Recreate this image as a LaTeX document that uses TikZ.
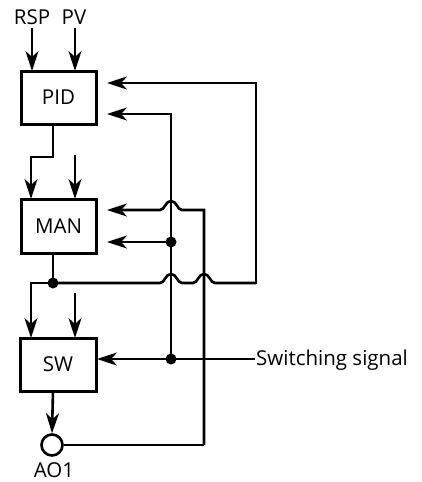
\documentclass[tikz,border=0pt]{standalone}
\usepackage{fontspec}
\setmainfont{Open Sans}
\usetikzlibrary{arrows.meta}
\begin{document}
\begin{tikzpicture}[x=1pt,y=-1pt,
  wire/.style={line width=2.6pt, line join=miter},
  arr/.style={wire, -{Stealth[length=20pt, width=13pt, inset=6pt]}},
  blk/.style={draw, line width=3pt, inner sep=0pt, font=\fontsize{20.5}{22}\selectfont},
  lbl/.style={font=\fontsize{20.5}{22}\selectfont, inner sep=0pt},
  dot/.style={circle, fill, inner sep=0pt, minimum size=11pt}]
\useasboundingbox (0,0) rectangle (422,482);
% blocks
\node[blk, minimum width=75pt, minimum height=53pt] (pid) at (58.5,97.5) {PID};
\node[blk, minimum width=75pt, minimum height=54pt] (man) at (58.5,226) {MAN};
\node[blk, minimum width=76pt, minimum height=53pt] (sw) at (58,364.5) {SW};
\node[draw, circle, line width=2.6pt, minimum size=21pt, inner sep=0pt] (ao) at (52,445) {};
\node[lbl] (aol) at (54,470) {AO1};
\node[lbl] (rsp) at (32,17) {RSP};
\node[lbl] (pv) at (74,17) {PV};
\node[lbl, anchor=west] (sig) at (256,360) {Switching signal};
% coordinates
\coordinate (pidB) at (53,124);
\coordinate (pidIn1) at (32,71);
\coordinate (pidIn2) at (75,71);
\coordinate (manIn1) at (31,199);
\coordinate (manIn2) at (75,199);
\coordinate (manIn2s) at (75,155);
\coordinate (manB) at (53,253);
\coordinate (swIn1) at (31,338);
\coordinate (swIn2) at (75,338);
\coordinate (swIn2s) at (75,293);
\coordinate (swB) at (53,391);
\coordinate (swR) at (97,359);
\coordinate (sigL) at (255,359);
\coordinate (j1) at (53,283);
\coordinate (j2) at (171,242);
\coordinate (j3) at (171,359);
\coordinate (r1) at (256,83);
\coordinate (r2) at (171,114);
\coordinate (r3) at (204,210);
\coordinate (r4) at (204,445);
\node[dot] at (j1) {};
\node[dot] at (j2) {};
\node[dot] at (j3) {};
% inputs
\draw[arr] (32,28) -- (pidIn1);
\draw[arr] (75,28) -- (pidIn2);
\draw[arr] (pidB) -- (53,157) -- (31,157) -- (manIn1);
\draw[arr] (manIn2s) -- (manIn2);
\draw[wire] (manB) -- (j1);
\draw[arr] (swIn2s) -- (swIn2);
% long loop from PID top-right arrow
\draw[arr] (j1) -- (31,283) -- (swIn1);
\draw[arr] (256,284) -- (r1) -- (107,83);
\draw[wire] (j1) -- (160,283) .. controls (165,283) and (165,274) .. (171,274)
   .. controls (177,274) and (177,283) .. (182,283) -- (193,283)
   .. controls (198,283) and (198,274) .. (204,274)
   .. controls (210,274) and (210,283) .. (215,283) -- (256,283);
% second loop
\draw[arr] (j3) -- (r2) -- (107,114);
\draw[arr] (j2) -- (107,242);
% third loop
\draw[arr] (r4) -- (r3) -- (182,210) .. controls (177,210) and (177,201) .. (171,201)
   .. controls (165,201) and (165,210) .. (160,210) -- (107,210);
\draw[wire] (r4) -- (ao.east);
% switching signal
\draw[arr] (sigL) -- (swR);
% output
\draw[arr] (swB) -- (ao.north);
\end{tikzpicture}
\end{document}
